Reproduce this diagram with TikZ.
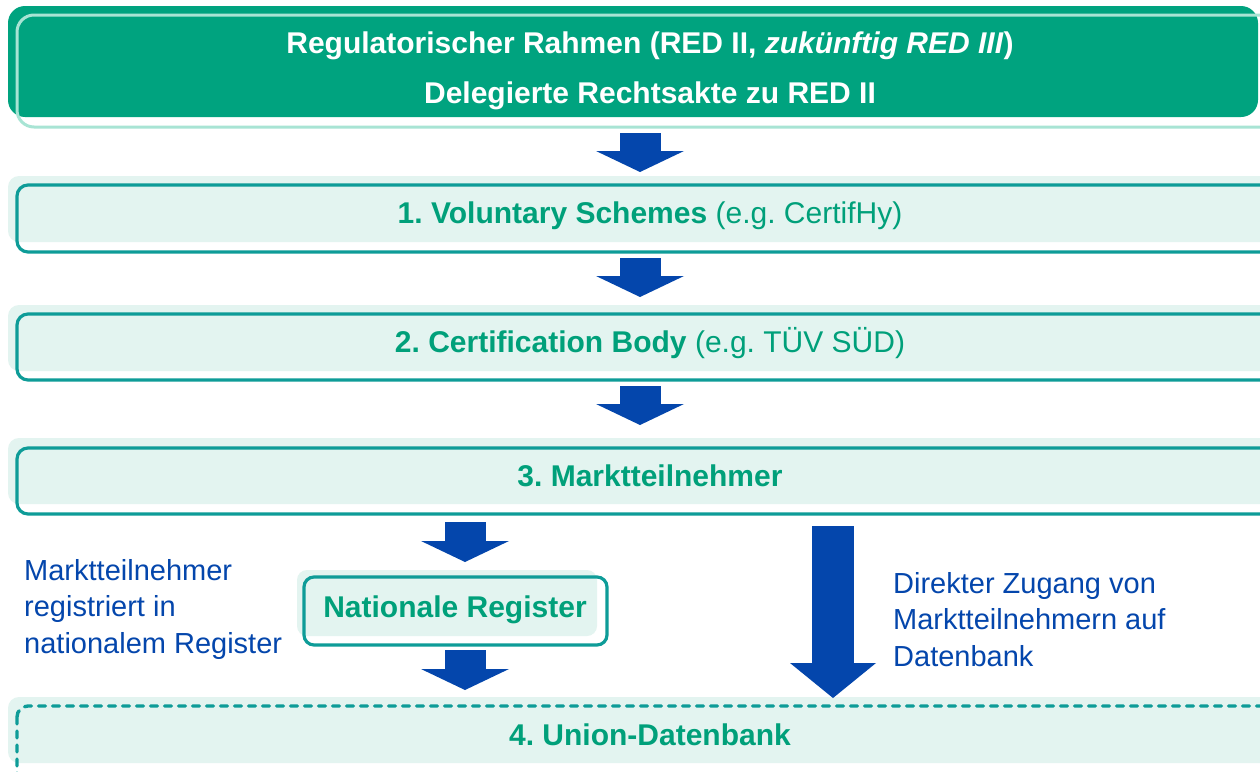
\documentclass[tikz,border=0pt]{standalone}
\usepackage{fontspec}
\setmainfont{Liberation Sans}
\usetikzlibrary{arrows.meta}
\frenchspacing

\definecolor{hdrgreen}{RGB}{0,163,127}
\definecolor{hdrline}{RGB}{168,228,212}
\definecolor{panelfill}{RGB}{227,244,240}
\definecolor{panelline}{RGB}{14,156,152}
\definecolor{labelgreen}{RGB}{0,160,122}
\definecolor{flowblue}{RGB}{4,70,172}

\begin{document}
\begin{tikzpicture}[x=1pt,y=-1pt,
  panel/.style={fill=panelfill, rounded corners=11pt},
  frame/.style={draw=panelline, line width=3.2pt, rounded corners=11pt},
  boxtext/.style={anchor=base, inner sep=0pt, text=labelgreen,
    font=\fontsize{30}{36}\selectfont},
  sidetext/.style={anchor=base west, inner sep=0pt, text=flowblue,
    font=\fontsize{29}{36}\selectfont},
  flow/.style={draw=flowblue, line width=41pt,
    -{Triangle[width=88pt,length=21pt,line width=0pt,fill=flowblue]}},
  bigflow/.style={draw=flowblue, line width=42pt,
    -{Triangle[width=86pt,length=35pt,line width=0pt,fill=flowblue]}},
]
\useasboundingbox (0,0) rectangle (1260,771);
\clip (0,0) rectangle (1260,771);
\fill[white] (0,0) rectangle (1260,771);

% header: legal framework
\fill[hdrgreen, rounded corners=17pt] (8,6) rectangle (1258,117);
\draw[hdrline, line width=3pt, rounded corners=17pt] (17,15) rectangle (1290,127);
\node[boxtext, text=white, font=\bfseries\fontsize{30}{36}\selectfont] (hdr1) at (650,53)
  {Regulatorischer Rahmen (RED II, \textit{zukünftig RED III})};
\node[boxtext, text=white, font=\bfseries\fontsize{30}{36}\selectfont] (hdr2) at (650,103)
  {Delegierte Rechtsakte zu RED II};

% level 1
\fill[panel] (8,176) rectangle (1290,242);
\draw[frame] (17,185) rectangle (1290,252);
\node[boxtext] (vs) at (650,223) {\textbf{1. Voluntary Schemes} (e.g. CertifHy)};

% level 2
\fill[panel] (8,305) rectangle (1290,371);
\draw[frame] (17,314) rectangle (1290,380);
\node[boxtext] (cb) at (650,352) {\textbf{2. Certification Body} (e.g. TÜV SÜD)};

% level 3
\fill[panel] (8,438) rectangle (1290,504);
\draw[frame] (17,448) rectangle (1290,514);
\node[boxtext] (mt) at (650,486) {\textbf{3. Marktteilnehmer}};

% national registers
\fill[panel, rounded corners=10pt] (297,570) rectangle (597,636);
\draw[frame, rounded corners=10pt] (304,577) rectangle (607,645);
\node[boxtext] (nr) at (455,617) {\textbf{Nationale Register}};

% level 4: union database
\fill[panel] (8,697) rectangle (1290,763);
\draw[panelline, line width=3.4pt, rounded corners=11pt, line cap=round,
  dash pattern=on 7pt off 7pt] (17,706) rectangle (1290,790);
\node[boxtext] (ud) at (650,745) {\textbf{4. Union-Datenbank}};

% side notes
\node[sidetext] (ln1) at (24,580) {Marktteilnehmer};
\node[sidetext] (ln2) at (24,616) {registriert in};
\node[sidetext] (ln3) at (24,653) {nationalem Register};
\node[sidetext] (rn1) at (893,593) {Direkter Zugang von};
\node[sidetext] (rn2) at (893,629) {Marktteilnehmern auf};
\node[sidetext] (rn3) at (893,666) {Datenbank};

% flow arrows
\coordinate (hdr-out) at (640,133);  \coordinate (vs-in) at (640,172);
\coordinate (vs-out)  at (640,258);  \coordinate (cb-in) at (640,297);
\coordinate (cb-out)  at (640,386);  \coordinate (mt-in) at (640,425);
\coordinate (mt-out)  at (465,522);  \coordinate (nr-in) at (465,562);
\coordinate (nr-out)  at (465,650);  \coordinate (ud-in) at (465,690);
\coordinate (mt-direct) at (833,526); \coordinate (ud-direct) at (833,698);

\draw[flow] (hdr-out) -- (vs-in);
\draw[flow] (vs-out) -- (cb-in);
\draw[flow] (cb-out) -- (mt-in);
\draw[flow] (mt-out) -- (nr-in);
\draw[flow] (nr-out) -- (ud-in);
\draw[bigflow] (mt-direct) -- (ud-direct);
\end{tikzpicture}
\end{document}
